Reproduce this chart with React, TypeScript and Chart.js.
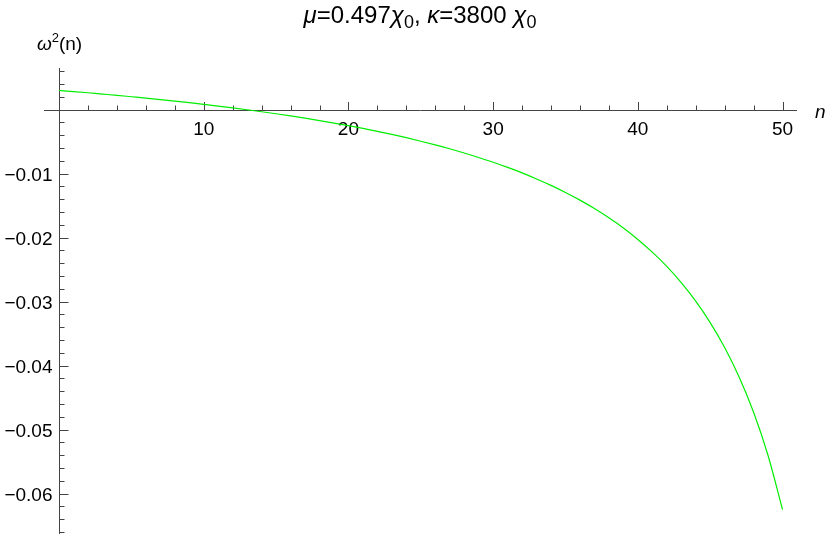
import React, { useEffect, useRef } from 'react';
import { Chart, registerables } from 'chart.js';

Chart.register(...registerables);

// ---- data ----
const nValues = [
  0, 1, 2, 3, 4, 5, 6, 7, 8, 9,
  10, 11, 12, 13, 14, 15, 16, 17, 18, 19,
  20, 21, 22, 23, 24, 25, 26, 27, 28, 29,
  30, 31, 32, 33, 34, 35, 36, 37, 38, 39,
  40, 41, 42, 43, 44, 45, 46, 47, 48, 49, 50,
];
const omega2Values = [
  0.00300, 0.00282, 0.00263, 0.00243, 0.00223, 0.00201, 0.00179, 0.00156, 0.00133, 0.00108,
  0.00082, 0.00055, 0.00027, -0.00002, -0.00033, -0.00065, -0.00099, -0.00134, -0.00171, -0.00210,
  -0.00251, -0.00294, -0.00340, -0.00388, -0.00439, -0.00494, -0.00551, -0.00612, -0.00678, -0.00748,
  -0.00822, -0.00903, -0.00989, -0.01083, -0.01184, -0.01294, -0.01414, -0.01546, -0.01691, -0.01850,
  -0.02028, -0.02227, -0.02450, -0.02703, -0.02993, -0.03327, -0.03716, -0.04177, -0.04729, -0.05404, -0.06248,
];

const xMajorTicks = [10, 20, 30, 40, 50];
const xMajorLabels = ['10', '20', '30', '40', '50'];
const xMinorTicks = [2, 4, 6, 8, 12, 14, 16, 18, 22, 24, 26, 28, 32, 34, 36, 38, 42, 44, 46, 48];
const yMajorTicks = [-0.01, -0.02, -0.03, -0.04, -0.05, -0.06];
const yMajorLabels = ['\u22120.01', '\u22120.02', '\u22120.03', '\u22120.04', '\u22120.05', '\u22120.06'];
const yMinorTicks = [
  0.006, 0.004, 0.002,
  -0.002, -0.004, -0.006, -0.008,
  -0.012, -0.014, -0.016, -0.018,
  -0.022, -0.024, -0.026, -0.028,
  -0.032, -0.034, -0.036, -0.038,
  -0.042, -0.044, -0.046, -0.048,
  -0.052, -0.054, -0.056, -0.058,
  -0.062, -0.064, -0.066,
];

const X_MIN = -1.04;
const X_MAX = 51;
const Y_MIN = -0.0663;
const Y_MAX = 0.0065;

const AXIS_COLOR = '#444444';
const TEXT_COLOR = '#000000';
const LINE_COLOR = '#00ee00';
const FONT_FAMILY = '"Liberation Sans", Arial, Helvetica, sans-serif';
const TICK_SIZE = 19;
const TITLE_SIZE = 24;

type Seg = { t: string; italic?: boolean; sub?: boolean; sup?: boolean };

function drawSegments(ctx: CanvasRenderingContext2D, segs: Seg[], cx: number, baseline: number, size: number, smallRatio = 0.7) {
  const fontFor = (s: Seg) => {
    const sz = s.sub || s.sup ? Math.round(size * smallRatio) : size;
    return `${s.italic ? 'italic ' : ''}${sz}px ${FONT_FAMILY}`;
  };
  let total = 0;
  const widths: number[] = [];
  for (const s of segs) {
    ctx.font = fontFor(s);
    const w = ctx.measureText(s.t).width;
    widths.push(w);
    total += w;
  }
  let x = cx - total / 2;
  ctx.textAlign = 'left';
  ctx.textBaseline = 'alphabetic';
  segs.forEach((s, i) => {
    ctx.font = fontFor(s);
    let dy = 0;
    if (s.sub) dy = size * 0.2;
    if (s.sup) dy = -size * 0.42;
    ctx.fillText(s.t, x, baseline + dy);
    x += widths[i];
  });
}

const mmaPlugin = {
  id: 'mmaAxes',
  beforeDatasetsDraw(chart: any) {
    const { ctx, chartArea, scales } = chart;
    const xs = scales.x;
    const ys = scales.y;
    const x0 = Math.round(xs.getPixelForValue(0)) + 0.5;
    const y0 = Math.round(ys.getPixelForValue(0)) + 0.5;
    ctx.save();
    ctx.strokeStyle = AXIS_COLOR;
    ctx.lineWidth = 1;
    ctx.beginPath();
    ctx.moveTo(chartArea.left, y0);
    ctx.lineTo(chartArea.right, y0);
    ctx.moveTo(x0, chartArea.top);
    ctx.lineTo(x0, chartArea.bottom);
    for (const v of xMinorTicks) {
      const px = Math.round(xs.getPixelForValue(v)) + 0.5;
      ctx.moveTo(px, y0);
      ctx.lineTo(px, y0 - 5);
    }
    for (const v of xMajorTicks) {
      const px = Math.round(xs.getPixelForValue(v)) + 0.5;
      ctx.moveTo(px, y0);
      ctx.lineTo(px, y0 - 8.5);
    }
    for (const v of yMinorTicks) {
      const py = Math.round(ys.getPixelForValue(v)) + 0.5;
      ctx.moveTo(x0, py);
      ctx.lineTo(x0 + 5, py);
    }
    for (const v of yMajorTicks) {
      const py = Math.round(ys.getPixelForValue(v)) + 0.5;
      ctx.moveTo(x0, py);
      ctx.lineTo(x0 + 9, py);
    }
    ctx.stroke();

    ctx.fillStyle = TEXT_COLOR;
    ctx.font = `${TICK_SIZE}px ${FONT_FAMILY}`;
    ctx.textAlign = 'center';
    ctx.textBaseline = 'alphabetic';
    xMajorTicks.forEach((v, i) => {
      const px = xs.getPixelForValue(v);
      ctx.fillText(xMajorLabels[i], px, y0 + 24);
    });
    ctx.textAlign = 'right';
    yMajorTicks.forEach((v, i) => {
      const py = ys.getPixelForValue(v);
      ctx.fillText(yMajorLabels[i], x0 - 7, py + 7);
    });

    // axis labels
    ctx.font = `italic ${TICK_SIZE}px ${FONT_FAMILY}`;
    ctx.textAlign = 'left';
    ctx.fillText('n', chartArea.right + 18, y0 + 7);

    drawSegments(
      ctx,
      [{ t: '\u03C9', italic: true }, { t: '2', sup: true }, { t: '(n)' }],
      x0,
      50,
      TICK_SIZE
    );

    // title
    drawSegments(
      ctx,
      [
        { t: '\u03BC', italic: true },
        { t: '=0.497' },
        { t: '\u03C7', italic: true },
        { t: '0', sub: true },
        { t: ', ' },
        { t: '\u03BA', italic: true },
        { t: '=3800 ' },
        { t: '\u03C7', italic: true },
        { t: '0', sub: true },
      ],
      420,
      23,
      TITLE_SIZE,
      0.75
    );
    ctx.restore();
  },
};

export default function App() {
  const canvasRef = useRef<HTMLCanvasElement | null>(null);

  useEffect(() => {
    const canvas = canvasRef.current;
    if (!canvas) return;
    const points = nValues.map((n, i) => ({ x: n, y: omega2Values[i] }));
    const chart = new Chart(canvas, {
      type: 'line',
      data: {
        datasets: [
          {
            data: points,
            borderColor: LINE_COLOR,
            borderWidth: 1.2,
            pointRadius: 0,
            fill: false,
            cubicInterpolationMode: 'monotone',
          },
        ],
      },
      options: {
        responsive: false,
        animation: false,
        maintainAspectRatio: false,
        devicePixelRatio: 1,
        layout: { padding: { left: 44, right: 33, top: 68, bottom: 0 } },
        plugins: {
          legend: { display: false },
          tooltip: { enabled: false },
          title: { display: false },
        },
        scales: {
          x: { type: 'linear', min: X_MIN, max: X_MAX, display: false },
          y: { type: 'linear', min: Y_MIN, max: Y_MAX, display: false },
        },
      },
      plugins: [mmaPlugin],
    } as any);
    return () => chart.destroy();
  }, []);

  return (
    <div style={{ position: 'absolute', left: 0, top: 0, width: 830, height: 534, background: '#fff' }}>
      <canvas ref={canvasRef} width={830} height={534} style={{ display: 'block' }} />
    </div>
  );
}
